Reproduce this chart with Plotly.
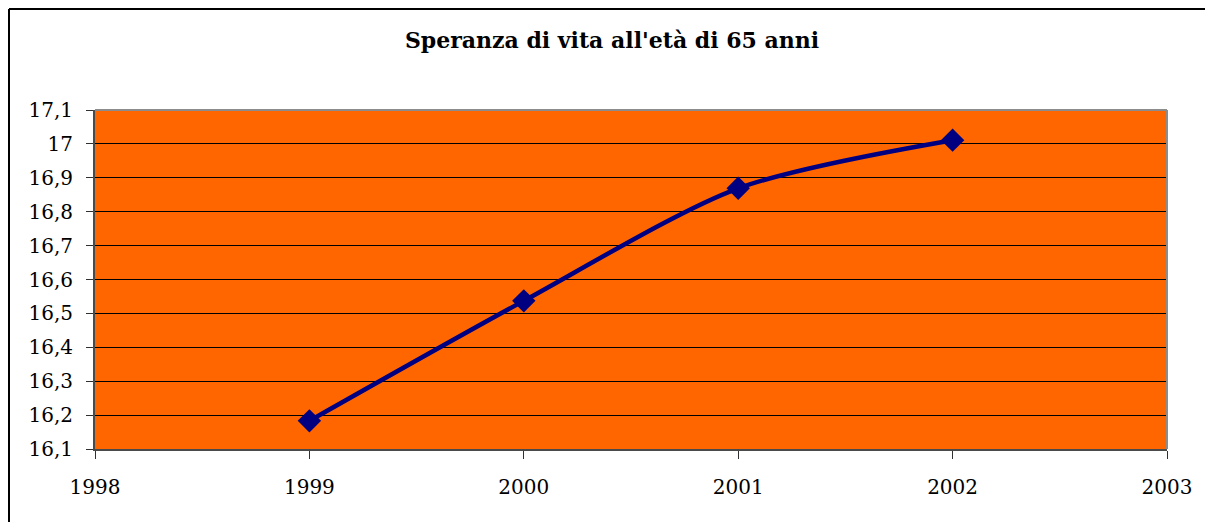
import plotly.graph_objects as go

years = [1999, 2000, 2001, 2002]
values = [16.183, 16.537, 16.869, 17.011]
title_text = "Speranza di vita all'età di 65 anni"
x_ticks = [1998, 1999, 2000, 2001, 2002, 2003]
y_ticks = [16.1, 16.2, 16.3, 16.4, 16.5, 16.6, 16.7, 16.8, 16.9, 17.0, 17.1]

# page body adds an 8px margin, so the figure is laid out in shifted coordinates
OFF = 8
W, H = 1213 - OFF, 522 - OFF
L, T = 95 - OFF, 110 - OFF
R = W - (1167 - OFF)
B = H - (449 - OFF)
pw, ph = W - L - R, H - T - B

font_family = "DejaVu Serif, Liberation Serif, serif"

fig = go.Figure()
fig.add_trace(go.Scatter(
    x=years, y=values, mode="lines+markers",
    line=dict(color="#000080", width=4.5, shape="spline", smoothing=0.8),
    marker=dict(symbol="diamond", size=18, color="#000080"),
    showlegend=False, hoverinfo="x+y",
))

fig.update_layout(
    width=W, height=H,
    margin=dict(l=L, r=R, t=T, b=B),
    paper_bgcolor="white",
    plot_bgcolor="#FF6600",
    separators=", ",
    font=dict(family=font_family, color="black", size=20),
    title=dict(text="<b>" + title_text + "</b>", x=(612 - OFF) / W, xanchor="center",
               y=1 - (40 - OFF) / H, yanchor="middle",
               font=dict(family=font_family, size=22, color="black")),
    xaxis=dict(range=[1998, 2003], tickvals=x_ticks, ticktext=[str(v) for v in x_ticks],
               showgrid=False, zeroline=False, showline=True, linecolor="#4a4a4a", linewidth=2,
               ticks="outside", ticklen=8, tickcolor="#303030", tickwidth=1,
               ticklabelstandoff=11, tickfont=dict(size=20)),
    yaxis=dict(range=[16.1, 17.1], tickvals=y_ticks,
               ticktext=[("%g" % v).replace(".", ",") for v in y_ticks],
               showgrid=True, gridcolor="black", gridwidth=1, zeroline=False,
               showline=True, linecolor="#4a4a4a", linewidth=2,
               ticks="outside", ticklen=7, tickcolor="#303030", tickwidth=1,
               ticklabelstandoff=9, tickfont=dict(size=20)),
    shapes=[
        # plot area top/right border
        dict(type="line", xref="paper", yref="paper", x0=0, x1=1, y0=1, y1=1,
             line=dict(color="#8c8c8c", width=2)),
        dict(type="line", xref="paper", yref="paper", x0=1, x1=1, y0=0, y1=1,
             line=dict(color="#8c8c8c", width=2)),
        # outer chart frame (left and top edges)
        dict(type="line", xref="paper", yref="paper",
             x0=(1 - L) / pw, x1=(W + 10 - L) / pw, y0=1 + (T - 1) / ph, y1=1 + (T - 1) / ph,
             line=dict(color="black", width=2)),
        dict(type="line", xref="paper", yref="paper",
             x0=(1 - L) / pw, x1=(1 - L) / pw, y0=1 + (T - 1) / ph, y1=-(B + 10) / ph,
             line=dict(color="black", width=2)),
    ],
)

fig.write_html("out.html")
